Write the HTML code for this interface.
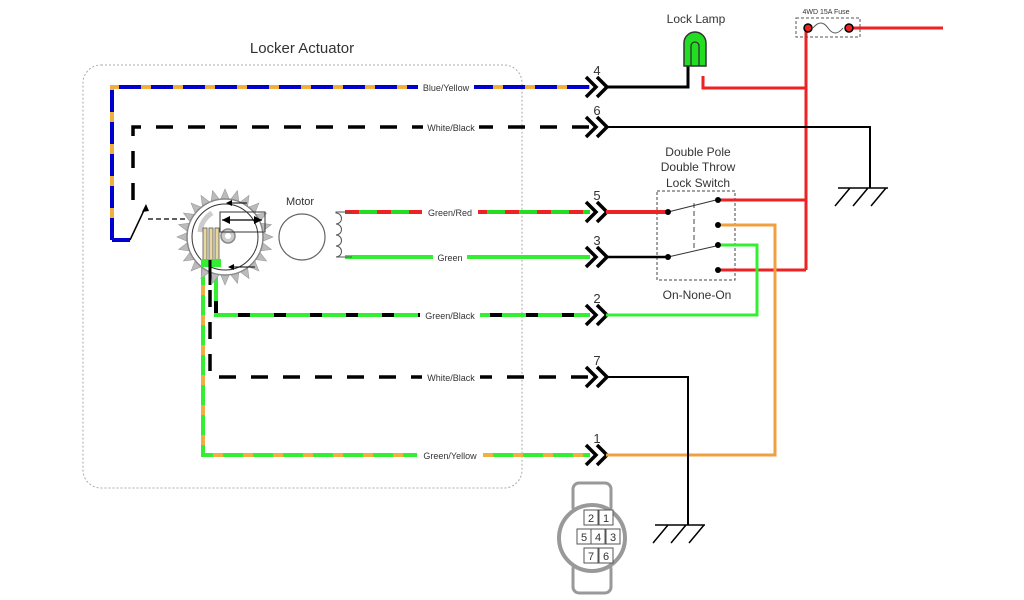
<!DOCTYPE html>
<html><head><meta charset="utf-8"><style>
html,body{margin:0;padding:0;background:#fff;}
svg{display:block;font-family:"Liberation Sans",Arial,sans-serif;}
</style></head><body>
<svg width="1024" height="600" viewBox="0 0 1024 600" xmlns="http://www.w3.org/2000/svg">
<rect width="1024" height="600" fill="#fff"/>
<rect x="83" y="65" width="439" height="423" rx="18" fill="none" stroke="#aaa" stroke-width="1" stroke-dasharray="2,2"/>
<text x="302" y="53" font-size="15" text-anchor="middle" fill="#333">Locker Actuator</text>

<path d="M112 240 V87 H590" fill="none" stroke="#f0b040" stroke-width="4"/>
<path d="M112 240 V87 H590" fill="none" stroke="#0000cc" stroke-width="4" stroke-dasharray="22,10"/>
<path d="M112 240 H130" stroke="#0000cc" stroke-width="4"/>
<path d="M133 200 V127 H590" fill="none" stroke="#000" stroke-width="3.5" stroke-dasharray="17,15"/>
<line x1="130" y1="240" x2="146" y2="206" stroke="#000" stroke-width="1.5"/>
<polygon points="146,204 142,212 149,211" fill="#000"/>
<line x1="148" y1="219" x2="200" y2="219" stroke="#000" stroke-width="1.2" stroke-dasharray="5,3"/>

<path d="M345 212 H590" stroke="#22dd22" stroke-width="4"/>
<path d="M345 212 H590" stroke="#ee2222" stroke-width="4" stroke-dasharray="14,18"/>
<path d="M345 257 H590" stroke="#33ee33" stroke-width="4"/>
<path d="M216 265 V315 H590" fill="none" stroke="#33ee33" stroke-width="4"/>
<path d="M216 265 V315 H590" fill="none" stroke="#000" stroke-width="4" stroke-dasharray="12,24"/>
<path d="M210 290 V377 H590" fill="none" stroke="#000" stroke-width="3.5" stroke-dasharray="17,15"/>
<path d="M203 265 V455 H590" fill="none" stroke="#f0b040" stroke-width="4"/>
<path d="M203 265 V455 H590" fill="none" stroke="#33ee33" stroke-width="4" stroke-dasharray="20,10"/>

<g font-size="9" fill="#333" text-anchor="middle">
<rect x="418" y="82" width="56" height="11" fill="#fff"/><text x="446" y="91">Blue/Yellow</text>
<rect x="423" y="122" width="56" height="11" fill="#fff"/><text x="451" y="131">White/Black</text>
<rect x="422" y="207" width="56" height="11" fill="#fff"/><text x="450" y="216">Green/Red</text>
<rect x="433" y="252" width="34" height="11" fill="#fff"/><text x="450" y="261">Green</text>
<rect x="420" y="310" width="60" height="11" fill="#fff"/><text x="450" y="319">Green/Black</text>
<rect x="422" y="372" width="58" height="11" fill="#fff"/><text x="451" y="381">White/Black</text>
<rect x="417" y="450" width="66" height="11" fill="#fff"/><text x="450" y="459">Green/Yellow</text>
</g>

<g fill="#bbb" stroke="#999" stroke-width=".6">
<polygon points="220,201 230,201 225,189" transform="rotate(0 225 237)"/>
<polygon points="220,201 230,201 225,189" transform="rotate(15 225 237)"/>
<polygon points="220,201 230,201 225,189" transform="rotate(30 225 237)"/>
<polygon points="220,201 230,201 225,189" transform="rotate(45 225 237)"/>
<polygon points="220,201 230,201 225,189" transform="rotate(60 225 237)"/>
<polygon points="220,201 230,201 225,189" transform="rotate(75 225 237)"/>
<polygon points="220,201 230,201 225,189" transform="rotate(90 225 237)"/>
<polygon points="220,201 230,201 225,189" transform="rotate(105 225 237)"/>
<polygon points="220,201 230,201 225,189" transform="rotate(120 225 237)"/>
<polygon points="220,201 230,201 225,189" transform="rotate(135 225 237)"/>
<polygon points="220,201 230,201 225,189" transform="rotate(150 225 237)"/>
<polygon points="220,201 230,201 225,189" transform="rotate(165 225 237)"/>
<polygon points="220,201 230,201 225,189" transform="rotate(180 225 237)"/>
<polygon points="220,201 230,201 225,189" transform="rotate(195 225 237)"/>
<polygon points="220,201 230,201 225,189" transform="rotate(210 225 237)"/>
<polygon points="220,201 230,201 225,189" transform="rotate(225 225 237)"/>
<polygon points="220,201 230,201 225,189" transform="rotate(240 225 237)"/>
<polygon points="220,201 230,201 225,189" transform="rotate(255 225 237)"/>
<polygon points="220,201 230,201 225,189" transform="rotate(270 225 237)"/>
<polygon points="220,201 230,201 225,189" transform="rotate(285 225 237)"/>
<polygon points="220,201 230,201 225,189" transform="rotate(300 225 237)"/>
<polygon points="220,201 230,201 225,189" transform="rotate(315 225 237)"/>
<polygon points="220,201 230,201 225,189" transform="rotate(330 225 237)"/>
<polygon points="220,201 230,201 225,189" transform="rotate(345 225 237)"/>
</g>
<circle cx="225" cy="237" r="38" fill="#fff" stroke="#888" stroke-width="1.5"/>
<circle cx="225" cy="237" r="33" fill="none" stroke="#333" stroke-width="1"/>
<circle cx="228" cy="236" r="7" fill="#ccc" stroke="#888" stroke-width="1.5"/>
<circle cx="228" cy="236" r="3" fill="#fff"/>
<path d="M200 232 A25 25 0 0 1 212 213" fill="none" stroke="#ccc" stroke-width="5"/>
<rect x="220" y="212" width="45" height="20" fill="none" stroke="#333" stroke-width="1"/>
<line x1="222" y1="220" x2="262" y2="220" stroke="#000" stroke-width="1.2"/>
<polygon points="222,220 230,216 230,224" fill="#000"/>
<polygon points="262,220 254,216 254,224" fill="#000"/>
<path d="M247 203 L228 203" stroke="#000" stroke-width="1"/><polygon points="226,203 232,200 232,206"/>
<path d="M255 267 L230 267" stroke="#000" stroke-width="1"/><polygon points="228,267 234,264 234,270"/>
<rect x="203" y="228" width="4" height="32" fill="#e8d8a0" stroke="#555" stroke-width=".8"/>
<rect x="209" y="228" width="4" height="32" fill="#e8d8a0" stroke="#555" stroke-width=".8"/>
<rect x="215" y="228" width="4" height="32" fill="#e8d8a0" stroke="#555" stroke-width=".8"/>
<rect x="201" y="259" width="20" height="8" fill="#33ee33"/>
<line x1="210" y1="260" x2="210" y2="285" stroke="#000" stroke-width="3"/>

<circle cx="302" cy="237" r="23" fill="#fff" stroke="#666" stroke-width="1.2"/>
<text x="300" y="205" font-size="11" text-anchor="middle" fill="#333">Motor</text>
<path d="M352 212 H336 V213 a5 5 0 0 1 0 11 a5 5 0 0 1 0 11 a5 5 0 0 1 0 11 a5 5 0 0 1 0 11 H352" fill="none" stroke="#555" stroke-width="1"/>

<g fill="none" stroke="#000" stroke-width="3.5">
<path d="M586 77 l10 10 l-10 10 M597 77 l10 10 l-10 10"/>
<path d="M586 117 l10 10 l-10 10 M597 117 l10 10 l-10 10"/>
<path d="M586 202 l10 10 l-10 10 M597 202 l10 10 l-10 10"/>
<path d="M586 247 l10 10 l-10 10 M597 247 l10 10 l-10 10"/>
<path d="M586 305 l10 10 l-10 10 M597 305 l10 10 l-10 10"/>
<path d="M586 367 l10 10 l-10 10 M597 367 l10 10 l-10 10"/>
<path d="M586 445 l10 10 l-10 10 M597 445 l10 10 l-10 10"/>
</g>
<g font-size="13" fill="#333" text-anchor="middle">
<text x="597" y="75">4</text><text x="597" y="115">6</text><text x="597" y="200">5</text>
<text x="597" y="245">3</text><text x="597" y="303">2</text><text x="597" y="365">7</text><text x="597" y="443">1</text>
</g>

<path d="M606 87 H688 V66" fill="none" stroke="#000" stroke-width="3"/>
<path d="M703 76 V88 H806" fill="none" stroke="#ee2222" stroke-width="3"/>
<path d="M806 28 V270" stroke="#ee2222" stroke-width="3"/>
<path d="M849 28 H943" stroke="#ee2222" stroke-width="3"/>
<rect x="796" y="18" width="64" height="19" fill="none" stroke="#555" stroke-width="1" stroke-dasharray="3,2"/>
<path d="M813 28 q8 -10 15 0 q7 10 15 0" fill="none" stroke="#555" stroke-width="1"/>
<circle cx="808" cy="28" r="4" fill="#ee2222" stroke="#000" stroke-width="1.5"/>
<circle cx="849" cy="28" r="4" fill="#ee2222" stroke="#000" stroke-width="1.5"/>
<text x="826" y="14" font-size="7" text-anchor="middle" fill="#333">4WD 15A Fuse</text>
<path d="M684 66 V43 a11 11 0 0 1 22 0 V66 Z" fill="#22dd22" stroke="#333" stroke-width="1.5"/>
<path d="M691 66 V46 a4 4 0 0 1 8 0 V66" fill="none" stroke="#333" stroke-width="1.3"/>
<text x="696" y="23" font-size="12" text-anchor="middle" fill="#333">Lock Lamp</text>

<path d="M606 127 H870 V188" fill="none" stroke="#000" stroke-width="2"/>
<path d="M838 188 H888 M850 188 l-15 18 M868 188 l-15 18 M886 188 l-15 18" fill="none" stroke="#000" stroke-width="1.5"/>

<text x="698" y="156" font-size="12" text-anchor="middle" fill="#333">Double Pole</text>
<text x="698" y="171" font-size="12" text-anchor="middle" fill="#333">Double Throw</text>
<text x="698" y="187" font-size="12" text-anchor="middle" fill="#333">Lock Switch</text>
<text x="697" y="299" font-size="12" text-anchor="middle" fill="#333">On-None-On</text>
<rect x="657" y="191" width="78" height="89" fill="none" stroke="#444" stroke-width="1" stroke-dasharray="3,2"/>
<line x1="694" y1="203" x2="694" y2="248" stroke="#444" stroke-width="1" stroke-dasharray="5,3"/>
<path d="M606 212 H668" stroke="#ee2222" stroke-width="4"/>
<path d="M606 257 H668" stroke="#000" stroke-width="2.5"/>
<path d="M668 212 L716 200 M668 257 L716 246" stroke="#333" stroke-width="1"/>
<path d="M718 200 H806 M718 270 H806" stroke="#ee2222" stroke-width="3" fill="none"/>
<path d="M718 225 H775 V455 H606" stroke="#f0a040" stroke-width="3" fill="none"/>
<path d="M718 245 H757 V315 H606" stroke="#33ee33" stroke-width="3" fill="none"/>
<g fill="#000">
<circle cx="668" cy="212" r="3"/><circle cx="668" cy="257" r="3"/>
<circle cx="718" cy="200" r="3"/><circle cx="718" cy="225" r="3"/><circle cx="718" cy="245" r="3"/><circle cx="718" cy="270" r="3"/>
</g>

<path d="M606 377 H688 V525" fill="none" stroke="#000" stroke-width="2"/>
<path d="M655 525 H705 M668 525 l-15 18 M686 525 l-15 18 M704 525 l-15 18" fill="none" stroke="#000" stroke-width="1.5"/>

<rect x="573" y="483" width="38" height="30" rx="6" fill="#fff" stroke="#999" stroke-width="3"/>
<rect x="573" y="563" width="38" height="30" rx="6" fill="#fff" stroke="#999" stroke-width="3"/>
<circle cx="592" cy="538" r="33" fill="#fff" stroke="#999" stroke-width="4"/>
<g fill="#fff" stroke="#555" stroke-width="1">
<rect x="584" y="510" width="14" height="15"/><rect x="599" y="510" width="14" height="15"/>
<rect x="577" y="529" width="14" height="15"/><rect x="591" y="529" width="14" height="15"/><rect x="606" y="529" width="14" height="15"/>
<rect x="584" y="548" width="14" height="15"/><rect x="599" y="548" width="14" height="15"/>
</g>
<g font-size="11" fill="#333" text-anchor="middle">
<text x="591" y="522">2</text><text x="606" y="522">1</text>
<text x="584" y="541">5</text><text x="598" y="541">4</text><text x="613" y="541">3</text>
<text x="591" y="560">7</text><text x="606" y="560">6</text>
</g>
</svg>
</body></html>
